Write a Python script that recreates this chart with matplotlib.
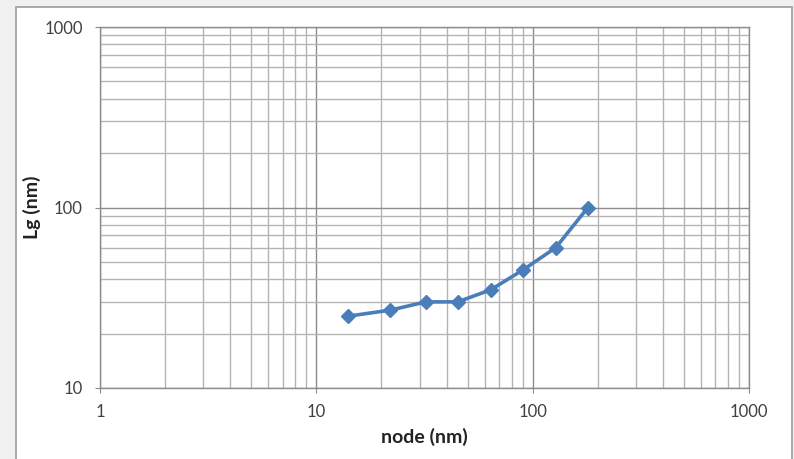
import matplotlib.pyplot as plt
from matplotlib.patches import Rectangle
from matplotlib.ticker import LogLocator, NullFormatter, FixedFormatter, FixedLocator

plt.rcParams['font.family'] = ['Lato', 'DejaVu Sans']

# data
node_nm = [14, 22, 32, 45, 64, 90, 128, 180]
lg_nm = [25, 27, 30, 30, 35, 45, 60, 100]

x_ticks = [1, 10, 100, 1000]
y_ticks = [10, 100, 1000]

fig = plt.figure(figsize=(7.94, 4.59), dpi=100)
fig.patch.set_facecolor('#f0f0f0')

# white chart box with grey border
fig.patches.append(Rectangle((16 / 794, -0.05), (792 - 16) / 794, 1 - 7 / 459 + 0.05,
                             transform=fig.transFigure, facecolor='white',
                             edgecolor='#9a9a9a', linewidth=1.2, zorder=-10))

ax = fig.add_axes([100 / 794, 1 - 388 / 459, 649 / 794, 361 / 459])
ax.set_facecolor('white')
ax.set_xscale('log')
ax.set_yscale('log')
ax.set_xlim(1, 1000)
ax.set_ylim(10, 1000)

ax.plot(node_nm, lg_nm, color='#4a7ebb', linewidth=2.6, marker='D',
        markersize=7.5, markerfacecolor='#4a7ebb', markeredgecolor='#4a7ebb',
        zorder=5, clip_on=False)

ax.xaxis.set_major_locator(FixedLocator(x_ticks))
ax.xaxis.set_major_formatter(FixedFormatter([str(v) for v in x_ticks]))
ax.yaxis.set_major_locator(FixedLocator(y_ticks))
ax.yaxis.set_major_formatter(FixedFormatter([str(v) for v in y_ticks]))
ax.xaxis.set_minor_locator(LogLocator(base=10, subs=range(2, 10)))
ax.yaxis.set_minor_locator(LogLocator(base=10, subs=range(2, 10)))
ax.xaxis.set_minor_formatter(NullFormatter())
ax.yaxis.set_minor_formatter(NullFormatter())

ax.grid(which='major', color='#8c8c8c', linewidth=1.0)
ax.grid(which='minor', color='#b4b4b4', linewidth=1.0)
ax.set_axisbelow(True)

for s in ax.spines.values():
    s.set_color('#8c8c8c')
    s.set_linewidth(1.0)

ax.tick_params(which='major', direction='out', length=3.5, color='#8c8c8c',
               labelsize=12, labelcolor='#404040')
ax.tick_params(which='minor', length=0)
ax.tick_params(axis='x', pad=8)
ax.tick_params(axis='y', pad=9)

ax.set_xlabel('node (nm)', fontsize=14, fontweight='bold', color='#222222', labelpad=6)
ax.set_ylabel('Lg (nm)', fontsize=14, fontweight='bold', color='#222222', labelpad=2)

fig.savefig('out.png', dpi=100, facecolor=fig.get_facecolor())
